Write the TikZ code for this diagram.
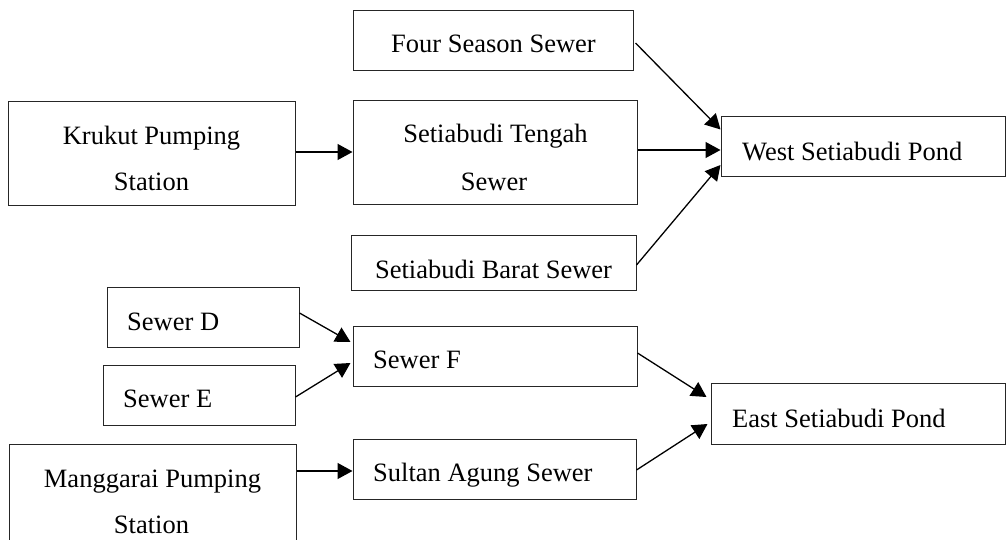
\documentclass[tikz,border=0pt]{standalone}
\usepackage{fontspec}
\setmainfont{Liberation Serif}
\usetikzlibrary{arrows.meta}
\begin{document}
\begin{tikzpicture}[x=1pt,y=-1pt,
  box/.style={draw=black!85, line width=1pt, inner sep=0pt},
  txt/.style={inner sep=0pt, font=\fontsize{26.5}{46}\selectfont},
  arr/.style={line width=1.3pt, -{Triangle[length=15pt,width=16pt]}}]
\useasboundingbox (0,0) rectangle (1006,540);

% boxes
\node[box, minimum width=280pt, minimum height=60pt]  (four)      at (493,41)    {};
\node[box, minimum width=287pt, minimum height=104pt] (krukut)    at (151.5,154) {};
\node[box, minimum width=284pt, minimum height=104pt] (tengah)    at (495,153)   {};
\node[box, minimum width=284pt, minimum height=60pt]  (west)      at (863,147)   {};
\node[box, minimum width=285pt, minimum height=55pt]  (barat)     at (493.5,262.5) {};
\node[box, minimum width=192pt, minimum height=60pt]  (sewerd)    at (203,317)   {};
\node[box, minimum width=284pt, minimum height=60pt]  (sewerf)    at (495,356)   {};
\node[box, minimum width=192pt, minimum height=60pt]  (sewere)    at (199,395)   {};
\node[box, minimum width=294pt, minimum height=61pt]  (east)      at (858,413.5) {};
\node[box, minimum width=287pt, minimum height=104pt] (manggarai) at (152.5,496) {};
\node[box, minimum width=283pt, minimum height=60pt]  (sultan)    at (494.5,469) {};

% texts
\node[txt, anchor=base] (t-four) at (493.5,53) {Four Season Sewer};
\node[txt, anchor=base] (t-krukut1) at (151.5,145) {Krukut Pumping};
\node[txt, anchor=base] (t-krukut2) at (151.5,190) {Station};
\node[txt, anchor=base] (t-tengah1) at (495.5,143) {Setiabudi Tengah};
\node[txt, anchor=base] (t-tengah2) at (494,190) {Sewer};
\node[txt, anchor=base west] (t-west) at (742,161) {West Setiabudi Pond};
\node[txt, anchor=base] (t-barat) at (493.5,278) {Setiabudi Barat Sewer};
\node[txt, anchor=base west] (t-sewerd) at (127,330) {Sewer D};
\node[txt, anchor=base west] (t-sewere) at (123,407) {Sewer E};
\node[txt, anchor=base west] (t-sewerf) at (373,368) {Sewer F};
\node[txt, anchor=base west] (t-east) at (732,427) {East Setiabudi Pond};
\node[txt, anchor=base] (t-mang1) at (152.5,487) {Manggarai Pumping};
\node[txt, anchor=base] (t-mang2) at (151.5,533) {Station};
\node[txt, anchor=base west] (t-sultan) at (373,481) {Sultan Agung Sewer};

% connectors
\draw[arr] ([xshift=2pt,yshift=-2pt]four.east) -- ([yshift=-13pt]west.north west);
\draw[arr] ([yshift=3pt]tengah.east) -- ([yshift=-3pt]west.west);
\draw[arr] ([yshift=-2.5pt]barat.east) -- ([yshift=-18pt]west.west);
\draw[arr] ([yshift=2pt]krukut.east) -- ([yshift=1pt]tengah.west);
\draw[arr] ([yshift=4pt]sewerd.east) -- ([xshift=-2pt,yshift=14pt]sewerf.west);
\draw[arr] ([yshift=-2pt]sewere.east) -- ([xshift=-2pt,yshift=-7pt]sewerf.west);
\draw[arr] ([yshift=3pt]sewerf.east) -- ([xshift=-4pt,yshift=16.5pt]east.west);
\draw[arr] ([yshift=-1pt]sultan.east) -- ([xshift=-3pt,yshift=-10.5pt]east.west);
\draw[arr] ([yshift=25pt]manggarai.east) -- ([yshift=-2pt]sultan.west);
\end{tikzpicture}
\end{document}
